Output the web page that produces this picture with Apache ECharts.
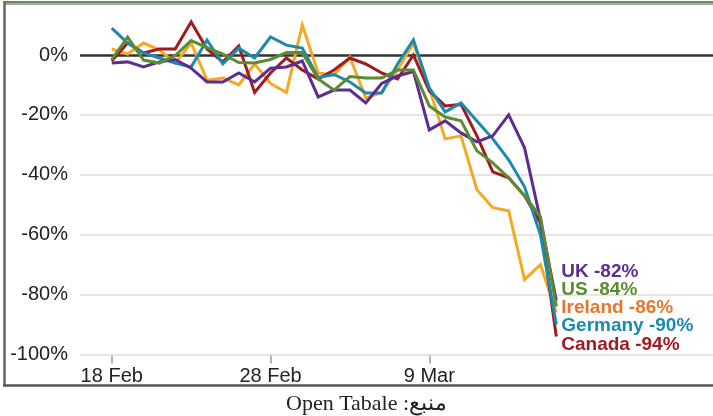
<!DOCTYPE html>
<html>
<head>
<meta charset="utf-8">
<script src="https://cdn.jsdelivr.net/npm/echarts@6/dist/echarts.min.js"></script>
<style>
html,body{margin:0;padding:0;background:#fff;}
#chart{width:713px;height:416px;}
</style>
</head>
<body>
<div id="chart"></div>
<script>
// Dates (18 Feb – 17 Mar 2020)
var dates = ['18 Feb','19 Feb','20 Feb','21 Feb','22 Feb','23 Feb','24 Feb','25 Feb','26 Feb','27 Feb','28 Feb','29 Feb',
  '1 Mar','2 Mar','3 Mar','4 Mar','5 Mar','6 Mar','7 Mar','8 Mar','9 Mar','10 Mar','11 Mar','12 Mar','13 Mar','14 Mar','15 Mar','16 Mar','17 Mar'];
var tickLabels = ['18 Feb','28 Feb','9 Mar'];
var yTicks = [-100,-80,-60,-40,-20,0];

var seriesNames = ['Ireland','Canada','Germany','UK','US'];
var ireland = [2,0.3,4,1.7,-2.7,4,-8.4,-7.7,-10,-3,-9.5,-12.5,10,-6,-6.7,-0.7,-14.4,-12.5,-5,4,-11,-28,-27,-45,-51,-52,-75,-70,-86];
var canada  = [-2,4,0.7,2,2,11,2,-2.3,3,-12.5,-6,-1,-5,-8,-5,-1,-3,-6,-8,0,-12,-17,-16.5,-27,-39,-41,-47,-56,-94];
var germany = [9,4,0.7,-1,-2.7,-4,5,-3,2.3,-1,6,3.3,2.3,-7.5,-6.5,-9,-12.7,-12.7,-3,5,-11,-19,-16,-22,-28,-35,-44,-60,-90];
var uk      = [-2.7,-2.3,-4,-2.3,-1.5,-4.4,-9,-9,-6,-9,-4.4,-4,-2,-14,-11.7,-11.7,-16,-9.5,-7,-5.5,-25,-22,-26,-29,-27,-20,-31,-55,-82];
var us      = [-1.5,6,-1.7,-2.7,-0.2,4.8,2.5,0.3,-2.5,-2.7,-1.5,0.8,0.8,-8,-11.7,-7.2,-7.7,-7.7,-5,-5,-17,-20.7,-22,-32,-36,-41,-47,-54,-84];

var lineColors  = {Ireland:'#f7a823', Canada:'#9e1b22', Germany:'#1b8aae', UK:'#5e2d91', US:'#5b8c32'};
var labelColors = {Ireland:'#e2772e', Canada:'#9e1b22', Germany:'#1b8aae', UK:'#5e2d91', US:'#5b8c32'};
var labelOffsets = {Ireland:[0,-5], Canada:[0,8], Germany:[0,1.5], UK:[0,-29], US:[0,-17]};
var valuesByName = {Ireland:ireland, Canada:canada, Germany:germany, UK:uk, US:us};

var tickIdx = tickLabels.map(function(t){ return dates.indexOf(t); });

function toPairs(arr){ return arr.map(function(v,i){ return [i, v]; }); }

var series = seriesNames.map(function(name, k){
  var s = {
    name: name,
    type: 'line',
    data: toPairs(valuesByName[name]),
    showSymbol: false,
    symbol: 'none',
    clip: false,
    lineStyle: {color: lineColors[name], width: 3, join: 'miter'},
    itemStyle: {color: lineColors[name]},
    z: 3 + k,
    endLabel: {
      show: true,
      distance: 5,
      offset: labelOffsets[name],
      color: labelColors[name],
      fontFamily: 'Liberation Sans, Arial, sans-serif',
      fontWeight: 'bold',
      fontSize: 19,
      formatter: function(p){ return p.seriesName + ' ' + p.value[1] + '%'; }
    }
  };
  if (k === 0) {
    s.markLine = {
      silent: true, symbol: 'none', z: 2,
      label: {show: false},
      data: yTicks.map(function(v){
        return {yAxis: v, lineStyle: v === 0
          ? {color: '#333', width: 2.5, type: 'solid'}
          : {color: '#dcdcdc', width: 1.5, type: 'solid'}};
      })
    };
  }
  return s;
});

var chart = echarts.init(document.getElementById('chart'), null, {renderer:'canvas'});
chart.setOption({
  animation: false,
  backgroundColor: '#fff',
  grid: {left: 80, right: 0, top: 19.06, bottom: 61.5, containLabel: false},
  xAxis: {
    type: 'value',
    min: -2,
    max: 37.87,
    axisLine: {show: false, onZero: false},
    splitLine: {show: false},
    axisTick: {show: true, customValues: tickIdx, length: 9, lineStyle: {color: '#999', width: 1.5}},
    axisLabel: {
      customValues: tickIdx,
      margin: 12,
      color: '#222',
      fontFamily: 'Liberation Sans, Arial, sans-serif',
      fontSize: 20,
      formatter: function(v){ return dates[Math.round(v)] || ''; }
    }
  },
  yAxis: {
    type: 'value',
    min: -100,
    max: 12,
    axisLine: {show: false},
    axisTick: {show: false, customValues: yTicks},
    splitLine: {show: false},
    axisLabel: {
      customValues: yTicks,
      margin: 12,
      color: '#222',
      fontFamily: 'Liberation Sans, Arial, sans-serif',
      fontSize: 20,
      formatter: function(v){ return v + '%'; }
    }
  },
  series: series,
  graphic: [
    {type:'line', shape:{x1:4, y1:2, x2:713, y2:2}, style:{stroke:'#6b8a5c', lineWidth:2}, silent:true},
    {type:'line', shape:{x1:4, y1:4, x2:713, y2:4}, style:{stroke:'#8a8a8a', lineWidth:1.5}, silent:true},
    {type:'line', shape:{x1:4.5, y1:1, x2:4.5, y2:386}, style:{stroke:'#666', lineWidth:2.5}, silent:true},
    {type:'line', shape:{x1:3, y1:385.5, x2:713, y2:385.5}, style:{stroke:'#555', lineWidth:2.5}, silent:true},
    {type:'text', left: 286, top: 393, silent:true,
     style:{text:'\u202Bمنبع: Open Tabale\u202C', fill:'#222', font:'22px "Liberation Serif", "DejaVu Serif", serif'}}
  ]
});
</script>
</body>
</html>
